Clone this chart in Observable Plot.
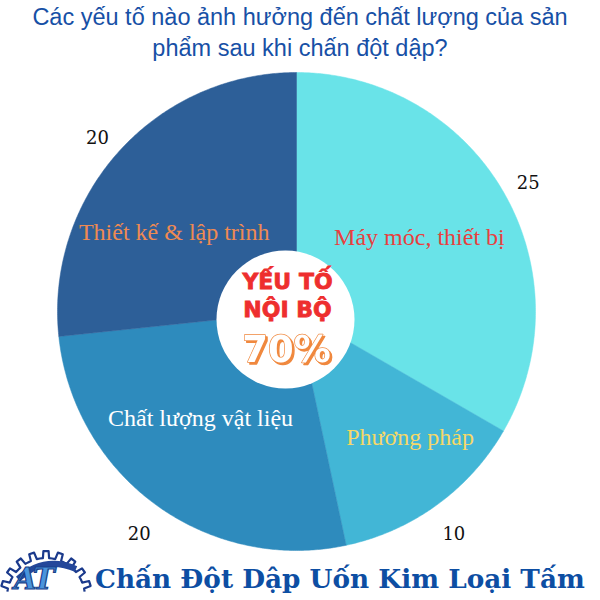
<!DOCTYPE html>
<html>
<head>
<meta charset="utf-8">
<script src="https://cdn.jsdelivr.net/npm/d3@7"></script>
<script src="https://cdn.jsdelivr.net/npm/@observablehq/plot@0.6"></script>
<style>
  html, body { margin: 0; padding: 0; background: #ffffff; width: 600px; height: 600px; overflow: hidden; }
  #title { font-family: "Liberation Sans", Arial, sans-serif; font-size: 23.5px; line-height: 31px; color: #1750a6; text-align: center; height: 64px; padding-top: 2px; box-sizing: border-box; white-space: nowrap; }
  #chart { height: 490px; position: relative; }
  #footer { position: relative; height: 46px; }
  #footer .brand { position: absolute; left: 95px; top: 9px; font-family: "DejaVu Serif", serif; font-weight: bold; font-size: 26.3px; color: #0d4ea3; white-space: nowrap; }
  #footer svg.logo { position: absolute; left: 0; top: -15px; }
</style>
</head>
<body>
<div id="title">Các yếu tố nào ảnh hưởng đến chất lượng của sản<br>phẩm sau khi chấn đột dập?</div>
<div id="chart"></div>
<div id="footer">
  <svg class="logo" width="94" height="60" viewBox="0 0 94 60">
    <path id="gear" fill="none" stroke="#1b3a8c" stroke-width="2.2" stroke-linejoin="round"/>
    <path d="M18 40 Q44 16 76 30" fill="none" stroke="#24479a" stroke-width="6"/>
    <text x="14" y="50" font-family="DejaVu Serif" font-weight="bold" font-style="italic" font-size="29" fill="#4a95dc" stroke="#173f8a" stroke-width="1.2" letter-spacing="-2">AT</text>
  </svg>
  <div class="brand">Chấn Đột Dập Uốn Kim Loại Tấm</div>
</div>
<script>
// ---- data ----
const categories = ["Máy móc, thiết bị", "Phương pháp", "Chất lượng vật liệu", "Thiết kế & lập trình"];
const values = [25, 10, 20, 20];
const sliceColors = ["#69e3e8", "#42b6d6", "#2e8bbd", "#2d5f98"];
const labelColors = ["#e8403f", "#f6d867", "#ffffff", "#ef8a52"];
const centerLines = ["YẾU TỐ", "NỘI BỘ"];
const centerValue = "70%";

// ---- decorative gear outline for the logo ----
(function () {
  const gx = 46, gy = 58, ro = 46, ri = 39, teeth = 9;
  const a0 = -172 * Math.PI / 180, a1 = -8 * Math.PI / 180;
  const pts = [];
  const step = (a1 - a0) / teeth;
  for (let k = 0; k < teeth; k++) {
    const s = a0 + k * step;
    const q = step / 4;
    [[s, ri], [s + q, ri], [s + q * 1.3, ro], [s + q * 2.7, ro], [s + q * 3, ri], [s + step, ri]].forEach(([a, r]) => pts.push([gx + r * Math.cos(a), gy + r * Math.sin(a)]));
  }
  document.getElementById("gear").setAttribute("d", "M" + pts.map(p => p[0].toFixed(1) + " " + p[1].toFixed(1)).join(" L"));
})();

// ---- layout helpers ----
const rows = categories.map((name, i) => ({name, value: values[i], color: sliceColors[i], labelColor: labelColors[i]}));
const arcs = d3.pie().sort(null).value(d => d.value).startAngle(0).endAngle(2 * Math.PI)(rows);

const poly = [];
arcs.forEach(a => {
  poly.push({name: a.data.name, color: a.data.color, x: 0, y: 0});
  const n = Math.max(2, Math.ceil((a.endAngle - a.startAngle) / (Math.PI / 360)));
  for (let k = 0; k <= n; k++) {
    const t = a.startAngle + (a.endAngle - a.startAngle) * k / n;
    poly.push({name: a.data.name, color: a.data.color, x: Math.sin(t), y: -Math.cos(t)});
  }
  poly.push({name: a.data.name, color: a.data.color, x: 0, y: 0});
});

// label placement tweaks (layout only)
const labelTweak = {
  "Máy móc, thiết bị": {r: 0.6, da: -1},
  "Phương pháp": {r: 0.71, da: -6},
  "Chất lượng vật liệu": {r: 0.6, da: 6},
  "Thiết kế & lập trình": {r: 0.61, da: -9}
};
const inner = arcs.map(a => {
  const tw = labelTweak[a.data.name];
  const m = (a.startAngle + a.endAngle) / 2 + tw.da * Math.PI / 180;
  return {name: a.data.name, color: a.data.labelColor, x: tw.r * Math.sin(m), y: -tw.r * Math.cos(m)};
});
const outer = arcs.map(a => {
  const m = (a.startAngle + a.endAngle) / 2;
  const r = 1.12;
  return {value: a.data.value, x: r * Math.sin(m), y: -r * Math.cos(m)};
});

const R = 239, cx = 296, cy = 247;
const center = [{x: 0, y: 0}];
const plot = Plot.plot({
  width: 600,
  height: 490,
  margin: 0,
  x: {domain: [-1, 1], range: [cx - R, cx + R], axis: null},
  y: {domain: [-1, 1], range: [cy - R, cy + R], axis: null},
  marks: [
    Plot.line(poly, {x: "x", y: "y", z: "name", fill: "color", stroke: "color", strokeWidth: 0.5, curve: "linear"}),
    Plot.text(inner, {x: "x", y: "y", text: "name", fill: "color", fontFamily: "Liberation Serif, serif", fontSize: 24}),
    Plot.text(outer, {x: "x", y: "y", dy: 6, text: d => String(d.value), fill: "#111", fontFamily: "DejaVu Serif, serif", fontSize: 18}),
    Plot.dot(center, {x: "x", y: "y", r: 69, fill: "#ffffff", stroke: "none", dx: -11, dy: 8}),
    Plot.text(center, {x: "x", y: "y", text: () => centerLines[0], dx: -9, dy: -30, fill: "#ee2e2e", fontFamily: "DejaVu Sans, sans-serif", fontWeight: "bold", fontSize: 22, className: "heavy"}),
    Plot.text(center, {x: "x", y: "y", text: () => centerLines[1], dx: -9, dy: -2, fill: "#ee2e2e", fontFamily: "DejaVu Sans, sans-serif", fontWeight: "bold", fontSize: 22, className: "heavy"}),
    Plot.text(center, {x: "x", y: "y", text: () => centerValue, dx: -10, dy: 39, fill: "#ffffff", stroke: "#f0883e", strokeWidth: 1.4, fontFamily: "DejaVu Sans, sans-serif", fontWeight: "bold", fontSize: 37, className: "shadowed"})
  ]
});
plot.querySelectorAll(".shadowed text").forEach(t => t.style.filter = "drop-shadow(2px 2px 0 #f0883e)");
plot.querySelectorAll(".heavy text").forEach(t => { t.setAttribute("stroke", "#ee2e2e"); t.setAttribute("stroke-width", "0.8"); });
document.getElementById("chart").appendChild(plot);
</script>
</body>
</html>
